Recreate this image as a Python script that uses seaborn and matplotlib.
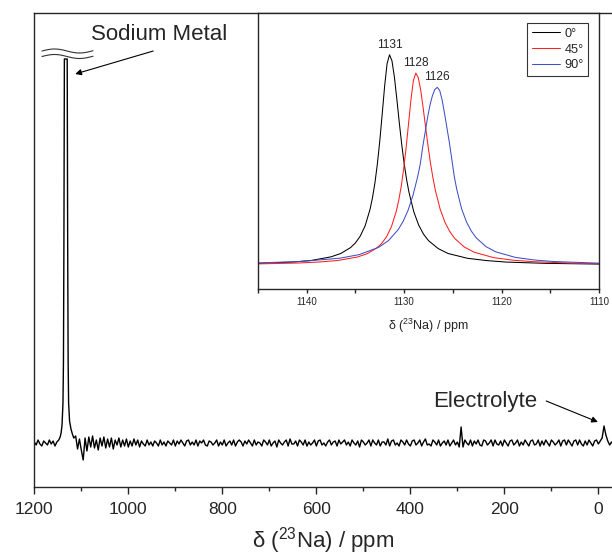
import numpy as np
import pandas as pd
import matplotlib
matplotlib.use("Agg")
import matplotlib.pyplot as plt
import seaborn as sns
from matplotlib.lines import Line2D
from matplotlib.ticker import MultipleLocator

# ---------------- data ----------------
# main 23Na spectrum: baseline samples every 4 ppm starting at 1200 ppm
main_start_ppm = 1200
main_step_ppm = -4
main_noise = [
    1, -2, 3, -1, -3, 2, 0, -2, 3, -1, 2, -3, 1, 2, 3, 5, 7, 5, 4, 3,
    5, -5, 7, -6, 4, -7, -17, 5, -8, 6, -4, 7, -5, 3, -7, 5, -3, 6, -5, 4,
    -4, 5, -6, 3, -2, 5, -4, 3, -3, 4, -4, 2, -3, 4, -2, 3, -4, 2, -1, -3,
    3, -2, 1, -3, 2, 0, -3, 3, -2, 1, -3, 2, 0, -2, 3, -3, 2, -1, 3, 0,
    -3, 2, 3, -2, 1, -2, 3, -3, 2, 0, 3, -2, -3, 2, 1, -2, 0, 3, -3, 1,
    -2, 3, -3, 0, 2, -2, 3, -3, 1, 3, 1, -3, 2, -1, 3, 0, -3, 3, -2, 1,
    0, -3, 3, 1, -2, 3, -3, 0, 2, -4, 3, 0, -2, 1, 3, -3, 4, -1, -1, 2,
    -3, 3, 1, -2, 3, -3, 1, -2, 0, 3, -3, 2, 3, -2, 0, -3, 1, 3, -2, 1,
    2, -3, 3, -1, 1, 3, -2, 1, -3, 3, 0, -2, 2, -4, 3, 1, -2, 0, 3, -3,
    3, 0, -2, 3, -3, 1, 1, -2, 4, -3, 2, 3, -2, 0, -3, 3, 1, -2, 3, -1,
    -3, 2, 3, -2, 0, 3, -3, 1, 4, -2, -1, -3, 3, 1, -2, 3, -3, 0, 2, -2,
    3, -3, 0, 3, -2, 1, -4, 16, -4, 3, 0, -2, 3, -3, 2, -1, 3, -2, -3, 3,
    2, -2, 0, 3, -3, 3, -1, -2, 2, -3, 3, 0, -3, 2, 3, -2, 0, 3, -3, 1,
    -2, 3, 0, -3, 2, 3, -2, -1, 3, -3, 2, -2, 3, 0, -3, 3, 1, -2, 0, 3,
    -3, 2, 3, -2, 3, 0, -3, 2, 3, -2, 3, -1, -3, 2, -2, 3, 0, -3, 2, 3,
    -1, 2, 5, 17, 8, 2, -2, 1, -2,
]
# sodium metal resonance (clipped at the axis break)
sodium_ppm = [1148, 1145, 1143, 1141, 1139, 1138, 1137, 1136,
              1130, 1129, 1128, 1127, 1125, 1122, 1119, 1116]
sodium_int = [3, 6, 10, 18, 40, 80, 200, 384,
              384, 200, 80, 40, 22, 14, 9, 5]
sodium_window = (1115, 1149)

main_xticks = [1200, 1000, 800, 600, 400, 200, 0]

# inset: orientation dependence of the metal peak
black_ppm = [1145, 1141.5, 1139.5, 1137.5, 1136.5, 1135.5, 1135, 1134.5, 1134, 1133.5,
             1133.25, 1133, 1132.75, 1132.5, 1132.25, 1132, 1131.75, 1131.5,
             1131.25, 1131, 1130.75, 1130.5, 1130.25, 1130, 1129.75, 1129.5, 1129,
             1128.5, 1128, 1127.5, 1126.5, 1125.5, 1123.5, 1121.5, 1119.5, 1115.5, 1110]
black_int = [0.008, 0.014, 0.022, 0.039, 0.055, 0.083, 0.105, 0.138, 0.187, 0.265,
             0.32, 0.39, 0.48, 0.59, 0.719, 0.852, 0.958, 1.0,
             0.971, 0.894, 0.789, 0.678, 0.574, 0.483, 0.407, 0.345, 0.252,
             0.189, 0.146, 0.116, 0.078, 0.055, 0.032, 0.021, 0.014, 0.008, 0.0045]

red_ppm = [1145, 1140.8, 1138.8, 1136.8, 1134.8, 1133.8, 1132.8, 1132.3, 1131.8, 1131.3,
           1130.8, 1130.55, 1130.3, 1130.05, 1129.8, 1129.55, 1129.3, 1129.05, 1128.8,
           1128.55, 1128.3, 1128.05, 1127.8, 1127.55, 1127.3, 1127.05, 1126.8, 1126.3,
           1125.8, 1125.3, 1124.8, 1123.8, 1122.8, 1120.8, 1118.8, 1116.8, 1112.8, 1110]
red_int = [0.0054, 0.0098, 0.0141, 0.0217, 0.038, 0.0537, 0.0813, 0.103, 0.135, 0.183,
           0.257, 0.309, 0.374, 0.457, 0.557, 0.671, 0.787, 0.878, 0.913,
           0.891, 0.832, 0.748, 0.657, 0.567, 0.486, 0.416, 0.356, 0.265,
           0.202, 0.158, 0.126, 0.0848, 0.0606, 0.0351, 0.0228, 0.016, 0.009, 0.0066]

blue_ppm = [1145, 1140.6, 1136.6, 1134.6, 1132.6, 1131.6, 1130.6, 1130.1, 1129.6, 1129.1,
            1128.6, 1128.35, 1128.1, 1127.85, 1127.6, 1127.35, 1127.1, 1126.85, 1126.6,
            1126.35, 1126.1, 1125.85, 1125.6, 1125.35, 1125.1, 1124.85, 1124.6, 1124.1,
            1123.6, 1123.1, 1122.6, 1121.6, 1120.6, 1118.6, 1116.6, 1114.6, 1110]
blue_int = [0.0099, 0.0169, 0.0325, 0.0497, 0.0845, 0.1166, 0.169, 0.208, 0.26, 0.33,
            0.4225, 0.479, 0.56, 0.63, 0.70, 0.76, 0.805, 0.835, 0.845,
            0.83, 0.785, 0.72, 0.65, 0.58, 0.50, 0.42, 0.36, 0.267,
            0.205, 0.161, 0.129, 0.0876, 0.0628, 0.0365, 0.0237, 0.0166, 0.0088]

angle_labels = ["0°", "45°", "90°"]
peak_labels = ["1131", "1128", "1126"]
inset_xticks = [1140, 1130, 1120, 1110]
colors = ["black", "#ff1f1f", "#3f4fc8"]

# ---------------- style ----------------
sns.set_style("ticks")
plt.rcParams["font.family"] = ["Liberation Sans", "DejaVu Sans"]
plt.rcParams["mathtext.fontset"] = "custom"
plt.rcParams["mathtext.rm"] = "Liberation Sans"
plt.rcParams["axes.linewidth"] = 1.0

W, H = 612, 560
fig = plt.figure(figsize=(W / 100, H / 100), dpi=100)

def frac(l, t, r, b):
    return [l / W, 1 - b / H, (r - l) / W, (b - t) / H]

xlabel_text = r"δ ($\mathregular{^{23}}$Na) / ppm"

# ---------------- main axes ----------------
ax = fig.add_axes(frac(34.3, 12.7, 612, 486.7))

grid_ppm = main_start_ppm + main_step_ppm * np.arange(len(main_noise))
noise = np.array(main_noise, dtype=float)
keep = (grid_ppm < sodium_window[0]) | (grid_ppm > sodium_window[1])
ppm_all = np.concatenate([grid_ppm[keep], sodium_ppm])
int_all = np.concatenate([noise[keep], sodium_int])
order = np.argsort(-ppm_all)
df_main = pd.DataFrame({"ppm": ppm_all[order], "intensity": int_all[order]})
sns.lineplot(data=df_main, x="ppm", y="intensity", ax=ax, color="black",
             lw=1.0, sort=False, estimator=None)

ax.set_xlim(1200, -29)
ax.set_ylim(-43.7, 430.3)
ax.set_xticks(main_xticks)
ax.xaxis.set_minor_locator(MultipleLocator(100))
ax.set_yticks([])
ax.set_ylabel("")
ax.spines["right"].set_visible(False)
ax.tick_params(axis="x", which="major", length=5, width=1, labelsize=12.5, pad=6,
               direction="out")
ax.tick_params(axis="x", which="minor", length=3.2, width=1, direction="out")
ax.set_xlabel(xlabel_text, fontsize=16, labelpad=6)

ax.text(935, 409, "Sodium Metal", fontsize=16, ha="center", va="center")
ax.annotate("", xy=(1113, 369), xytext=(947, 392),
            arrowprops=dict(arrowstyle="-|>", lw=0.8, color="black",
                            mutation_scale=9, shrinkA=0, shrinkB=0))
ax.text(241, 42, "Electrolyte", fontsize=16, ha="center", va="center")
ax.annotate("", xy=(1, 21), xytext=(111, 42),
            arrowprops=dict(arrowstyle="-|>", lw=0.8, color="black",
                            mutation_scale=9, shrinkA=0, shrinkB=0))

# axis-break marks over the clipped sodium peak
xs = np.linspace(42, 93, 60)
for yc in (51.0, 56.5):
    ys = yc - 2.0 * np.sin(2 * np.pi * (xs - 42) / 50)
    fig.add_artist(Line2D(xs / W, 1 - ys / H, transform=fig.transFigure,
                          color="#333333", lw=0.8))

# ---------------- inset ----------------
ins = fig.add_axes(frac(258, 12.7, 599, 289))
series = [(black_ppm, black_int), (red_ppm, red_int), (blue_ppm, blue_int)]
for (p, v), lab, col, pl in zip(series, angle_labels, colors, peak_labels):
    d = pd.DataFrame({"ppm": p, "intensity": v})
    sns.lineplot(data=d, x="ppm", y="intensity", ax=ins, color=col, lw=0.75,
                 label=lab, sort=False, estimator=None)
    i = int(np.argmax(v))
    ins.annotate(pl, xy=(p[i], v[i]), xytext=(0, 3), textcoords="offset points",
                 ha="center", va="bottom", fontsize=8.6)

ins.set_xlim(1145, 1110)
ins.set_ylim(-0.114, 1.2)
ins.set_xticks(inset_xticks)
ins.xaxis.set_minor_locator(MultipleLocator(5))
ins.set_yticks([])
ins.set_ylabel("")
ins.tick_params(axis="x", which="both", length=3, width=1, labelsize=7, pad=2.5,
                direction="out")
ins.set_xlabel(xlabel_text, fontsize=9, labelpad=7)
for s in ins.spines.values():
    s.set_linewidth(1.0)

leg = ins.legend(loc="upper right", bbox_to_anchor=(1 - 11 / 341, 1 - 10.6 / 276.3),
                 fontsize=9.2, frameon=True, fancybox=False, handlelength=2.2,
                 handletextpad=0.35, labelspacing=0.3, borderpad=0.35,
                 borderaxespad=0)
leg.get_frame().set_edgecolor("black")
leg.get_frame().set_linewidth(0.8)

fig.savefig("out.png", dpi=100)
